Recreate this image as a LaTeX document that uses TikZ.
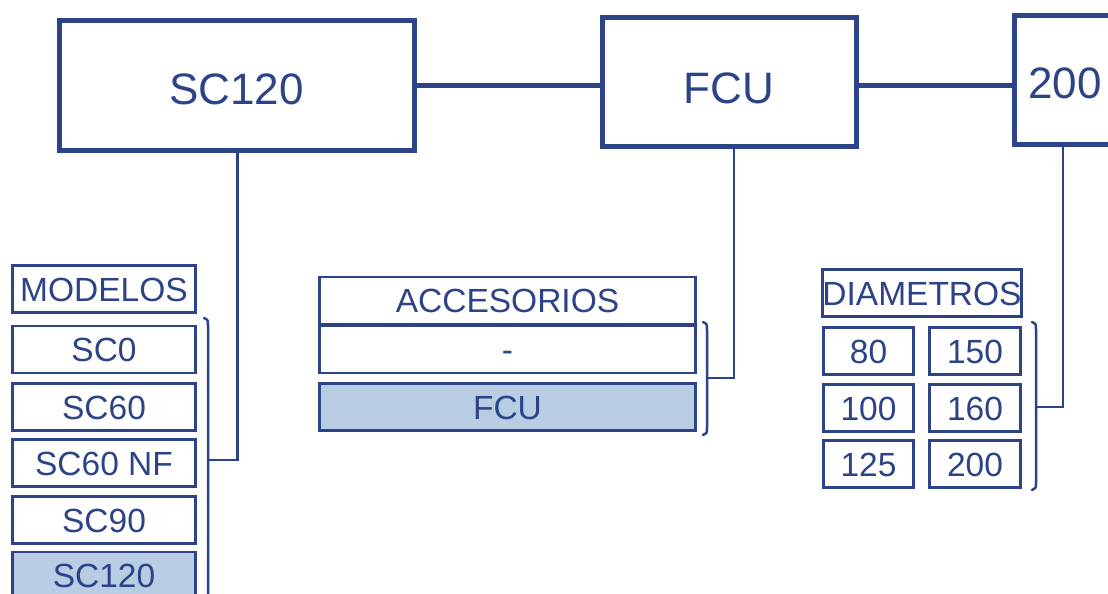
\documentclass[tikz,border=0pt]{standalone}
\usepackage{fontspec}
\setmainfont{Liberation Sans}
\definecolor{navy}{HTML}{2C4388}
\definecolor{selblue}{HTML}{B8CCE4}
\begin{document}
\begin{tikzpicture}[x=1pt,y=-1pt,
  bigbox/.style={draw=navy,line width=5pt,fill=white,text=navy,inner sep=0pt,minimum height=129pt,font=\fontsize{44}{44}\selectfont,text height=38pt,text depth=0pt},
  cell/.style={draw=navy,line width=2.8pt,fill=white,text=navy,inner sep=0pt,minimum height=47pt,font=\fontsize{33.5}{33.5}\selectfont,text height=24pt,text depth=0pt},
  sel/.style={cell,fill=selblue},
  thick link/.style={draw=navy,line width=5pt},
  thin link/.style={draw=navy,line width=2.5pt},
  bracket/.style={draw=navy,line width=2.5pt,line cap=round}]
\useasboundingbox (0,0) rectangle (1108,594);
% big boxes
\node[bigbox,minimum width=355pt] (bigSC) at (236.5,85.5) {SC120};
\node[bigbox,minimum width=254pt,text height=42pt] (bigFCU) at (729,82) {FCU};
\node[bigbox,minimum width=102pt] (bigD) at (1065,80) {200};
\coordinate (hl) at (0,85);
\draw[thick link] (bigSC.east |- hl) -- (bigFCU.west |- hl);
\draw[thick link] (bigFCU.east |- hl) -- (bigD.west |- hl);
% left column
\node[cell,minimum width=183pt] (modelos) at (104,289) {MODELOS};
\node[cell,minimum width=183pt] (m1) at (104,349.5) {SC0};
\node[cell,minimum width=183pt] (m2) at (104,407) {SC60};
\node[cell,minimum width=183pt] (m3) at (104,463) {SC60 NF};
\node[cell,minimum width=183pt] (m4) at (104,520) {SC90};
\node[sel,minimum width=183pt] (m5) at (104,575.5) {SC120};
\draw[bracket] (204,318) .. controls (208,320) .. (208,326) -- (208,596) .. controls (208,600) .. (204,602);
\coordinate (mbr) at (208,460);
\draw[thin link] (mbr) -| ([xshift=1pt]bigSC.south);
% middle column
\node[cell,minimum width=376pt] (acc) at (507.5,300.5) {ACCESORIOS};
\node[cell,minimum width=376pt] (a1) at (507.5,349.5) {-};
\node[sel,minimum width=376pt] (a2) at (507.5,407) {FCU};
\draw[bracket] (703,322) .. controls (707,324) .. (707,330) -- (707,428) .. controls (707,433) .. (703,435);
\coordinate (abr) at (707,378);
\draw[thin link] (abr) -| ([xshift=5pt]bigFCU.south);
% right column
\node[cell,minimum width=197pt] (diam) at (922,293) {DIAMETROS};
\node[cell,minimum width=90pt] (d1) at (868.5,351) {80};
\node[cell,minimum width=91pt] (d2) at (975,351) {150};
\node[cell,minimum width=90pt] (d3) at (868.5,408) {100};
\node[cell,minimum width=91pt] (d4) at (975,408) {160};
\node[cell,minimum width=90pt] (d5) at (868.5,464) {125};
\node[cell,minimum width=91pt] (d6) at (975,464) {200};
\draw[bracket] (1032,322) .. controls (1036,324) .. (1036,330) -- (1036,483) .. controls (1036,488) .. (1032,490);
\coordinate (dbr) at (1036,407);
\draw[thin link] (dbr) -| ([xshift=-2pt]bigD.south);
\end{tikzpicture}
\end{document}
